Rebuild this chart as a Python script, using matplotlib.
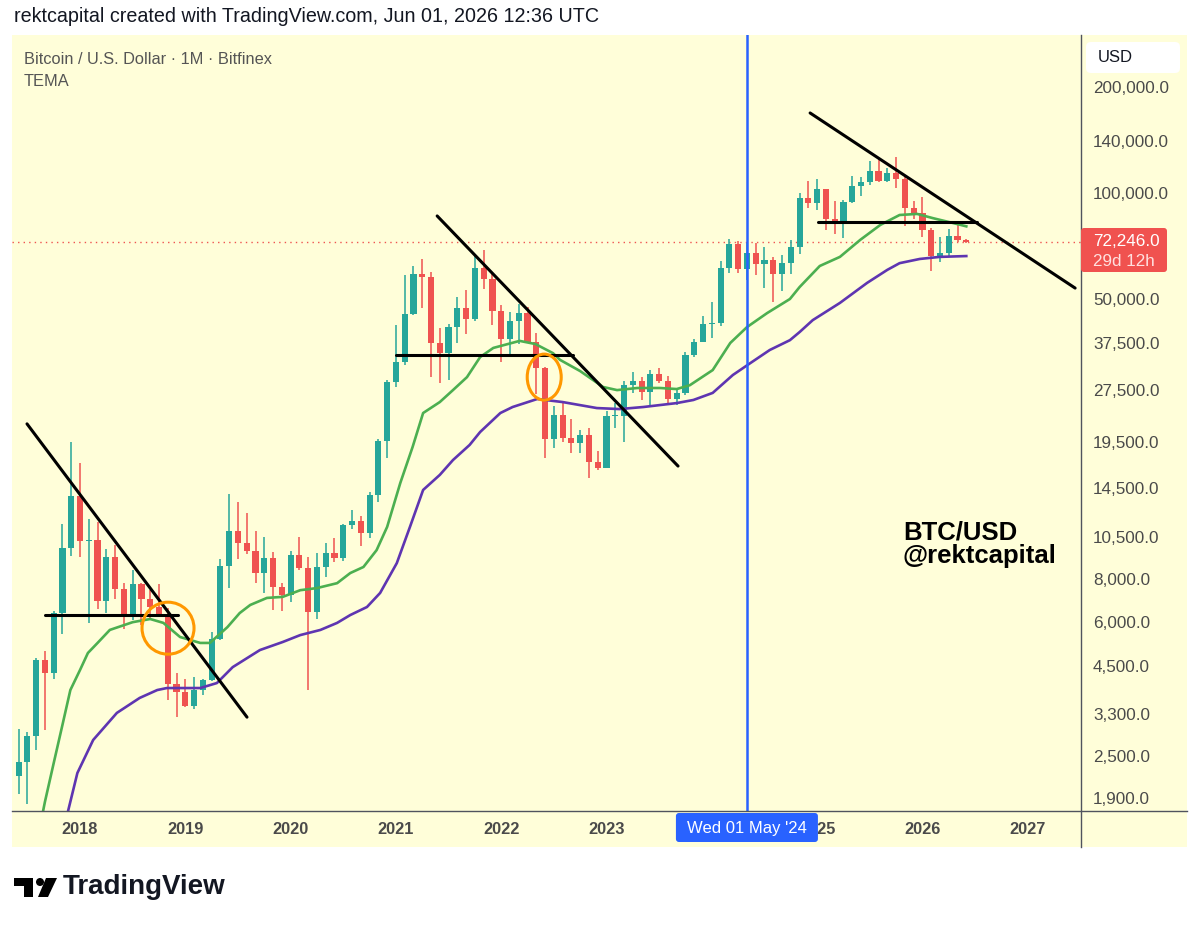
import matplotlib
matplotlib.use("Agg")
import matplotlib.pyplot as plt
import numpy as np
from matplotlib.patches import Rectangle, FancyBboxPatch, Ellipse, Polygon, Circle
from matplotlib.lines import Line2D
from matplotlib.transforms import IdentityTransform
from matplotlib.ticker import NullLocator

plt.rcParams["font.family"] = ["Liberation Sans", "DejaVu Sans"]

# monthly candles, Jun 2017 .. Jun 2026 (month index 0 = Jan 2018)
first_month = -7
opens = [2190, 2410, 2860, 4700, 4310, 6400, 9800,
         13700, 10200, 10320, 6900, 9200, 7450, 6350, 7700, 7000, 6620, 6320, 4000,
         3800, 3470, 3850, 4120, 5400, 8700, 10900, 10100, 9600, 8300, 9180, 7550,
         7200, 9350, 8550, 6420, 8630, 9450, 9140, 11350, 11650, 10780, 13800, 19700,
         28950, 33100, 45200, 58800, 57700, 37300, 35000, 41500, 47100, 43800, 61300, 57000,
         46200, 38500, 43200, 45500, 37700, 31800, 19900, 23300, 20050, 19430, 20500, 17170,
         16550, 23130, 23150, 28470, 29250, 27200, 30480, 29230, 25940, 26970, 34650, 37720,
         42280, 42580, 61130, 71300, 60650, 67500, 62700, 64600, 58950, 63300, 70200, 96400,
         93400, 102400, 84300, 82500, 94200, 104600, 107100, 115700, 108200, 114000, 109500, 90400,
         87500, 78400, 66100, 67300, 75500, 73300]
highs = [2980, 2920, 4740, 4980, 6470, 11400, 19600,
         17100, 11780, 11600, 9700, 9950, 7780, 8450, 7760, 7400, 7700, 6600, 4300,
         4150, 4200, 4150, 5650, 9100, 13900, 13200, 12300, 10950, 10500, 9500, 7750,
         9600, 10500, 9200, 9450, 10100, 10400, 11450, 12500, 12080, 14100, 19900, 29300,
         41950, 58350, 61800, 64900, 59500, 41300, 42400, 50500, 52900, 67000, 69000, 59100,
         47900, 45800, 48200, 47400, 40000, 31900, 24700, 25200, 22800, 21100, 21500, 18400,
         23950, 25250, 29200, 31000, 29850, 31400, 31800, 30200, 27500, 35200, 38450, 44700,
         48950, 63900, 73800, 72800, 71950, 71950, 70000, 65600, 66500, 73600, 99800, 108300,
         109300, 102500, 95000, 95700, 111900, 110600, 123200, 124500, 117900, 126200, 111000, 94600,
         97300, 79500, 75000, 79000, 82600, 73800]
lows = [1950, 1830, 2600, 2970, 4140, 5550, 9300,
        9200, 5980, 6550, 6400, 7000, 5760, 6100, 5900, 6100, 6200, 3620, 3230,
        3450, 3400, 3720, 4080, 5350, 7500, 9100, 9400, 7750, 7300, 6500, 6450,
        6880, 8450, 3850, 6150, 8100, 8900, 8950, 11100, 9900, 10400, 13200, 17600,
        28100, 32300, 45000, 47000, 30000, 28800, 29300, 37300, 39600, 43300, 53300, 42000,
        33000, 34300, 37200, 37600, 26700, 17600, 18800, 19600, 18150, 18200, 15500, 16300,
        16500, 21400, 19550, 26900, 25800, 24800, 28850, 25200, 24900, 26550, 34100, 37600,
        38550, 41900, 59300, 59200, 56500, 58400, 53500, 49000, 52500, 58900, 66800, 90500,
        89200, 78200, 76600, 74400, 93400, 98200, 105100, 107300, 107300, 103500, 80600, 84500,
        74800, 60000, 63500, 65600, 72500, 72000]
closes = [2410, 2860, 4700, 4310, 6400, 9800, 13700,
          10200, 10320, 6900, 9200, 7450, 6350, 7700, 7000, 6620, 6320, 4000, 3800,
          3470, 3850, 4120, 5400, 8700, 10900, 10100, 9600, 8300, 9180, 7550, 7200,
          9350, 8550, 6420, 8630, 9450, 9140, 11350, 11650, 10780, 13800, 19700, 28950,
          33100, 45200, 58800, 57700, 37300, 35000, 41500, 47100, 43800, 61300, 57000, 46200,
          38500, 43200, 45500, 37700, 31800, 19900, 23300, 20050, 19430, 20500, 17170, 16550,
          23130, 23150, 28470, 29250, 27200, 30480, 29230, 25940, 26970, 34650, 37720, 42280,
          42580, 61130, 71300, 60650, 67500, 62700, 64600, 58950, 63300, 70200, 96400, 93400,
          102400, 84300, 82500, 94200, 104600, 107100, 115700, 108200, 114000, 109500, 90400, 87500,
          78400, 66100, 67300, 75500, 73300, 72246]

# TEMA lines (month index, price)
green_x = [-4.3, -4.0, -3.0, -2.0, -1.1, 0.0, 0.9, 2.0, 3.4, 6.0, 8.0, 9.5, 11.4, 13.7, 14.8,
           16.8, 18.2, 19.4, 21.3, 23.1, 25.1, 27.0, 29.3, 30.8, 32.3, 33.8, 35.0, 36.5, 37.9,
           39.1, 41.0, 42.5, 44.1, 45.6, 47.1, 50.1, 51.9, 53.9, 54.7, 57.0, 59.6, 61.2, 63.5,
           66.1, 68.0, 69.5, 72.1, 74.1, 76.0, 78.3, 80.9, 82.0, 84.3, 86.6, 88.9, 91.2, 93.4,
           95.4, 97.2, 99.5, 101.0]
green_y = [1700, 1853, 2388, 3069, 3855, 4395, 4914, 5248, 5715, 6012, 6138, 5984, 5456, 5248, 5248,
           5821, 6383, 6730, 7047, 7096, 7413, 7516, 7762, 8294, 8630, 9638, 11220, 14962, 18930,
           23650, 25410, 27480, 29920, 34120, 36220, 37930, 37150, 35000, 33500, 31120, 28050, 27480, 27860,
           27860, 27670, 28380, 31330, 37410, 41500, 45500, 49900, 53950, 61940, 65750, 73450, 81050, 86500,
           87100, 84720, 82050, 80300]
purple_x = [-1.6, -0.3, 1.5, 4.2, 6.8, 8.8, 9.9, 13.7, 15.6, 17.4, 20.5, 23.1, 25.1, 27.4, 29.3,
            30.8, 32.7, 34.2, 36.1, 37.6, 39.1, 41.0, 42.5, 44.4, 45.6, 47.9, 49.3, 52.1, 55.0,
            58.9, 61.5, 64.2, 68.0, 69.9, 72.1, 74.4, 76.4, 78.6, 80.9, 82.0, 83.5, 86.6, 89.7,
            92.0, 93.4, 95.7, 98.0, 101.0]
purple_y = [1650, 2239, 2780, 3319, 3661, 3855, 3906, 3906, 4036, 4479, 5009, 5280, 5525, 5715, 5984,
            6300, 6640, 7280, 8850, 11220, 14290, 15770, 17380, 19190, 20890, 23650, 24600, 25920, 25410,
            24430, 24270, 24600, 25240, 25760, 26980, 30340, 32810, 35730, 38110, 40180, 43450, 48640, 55460,
            60390, 63100, 64860, 65750, 66100]

# drawn trendlines (month index, price)
trend_lines = [
    ([-6.04, 19.03], [22030, 3228]),
    ([-4.0, 11.2], [6300, 6300]),
    ([40.7, 68.15], [85960, 16710]),
    ([36.0, 56.2], [34590, 34590]),
    ([83.2, 113.4], [168700, 53600]),
    ([84.1, 102.2], [82400, 82400]),
]

price_ticks = [200000, 140000, 100000, 50000, 37500, 27500, 19500, 14500,
               10500, 8000, 6000, 4500, 3300, 2500, 1900]
# 2024 sits under the date label of the blue line
years = [2018, 2019, 2020, 2021, 2022, 2023, 2025, 2026, 2027]
last_price = 72246
marker_month = 76  # May 2024

BG = "#fffed9"
UP = "#26a69a"
DOWN = "#ef5350"
W, H = 1199, 927


def px(x, y):
    # pixel from top-left -> display coords
    return x, H - y


fig = plt.figure(figsize=(W / 100, H / 100), dpi=100)
fig.patch.set_facecolor("white")
fig.patches.append(Rectangle(px(12, 847), 1175, 812, transform=IdentityTransform(),
                             fc=BG, ec="none", zorder=-5))

ax = fig.add_axes([12 / W, 1 - 811 / H, (1081 - 12) / W, (811 - 35) / H])
ax.set_facecolor(BG)
ax.set_yscale("log")
ax.set_xlim(-7.75, 114.07)
ax.set_ylim(1746, 281100)
for s in ax.spines.values():
    s.set_visible(False)

# candles
idx = np.arange(len(opens)) + first_month
o = np.array(opens, float)
c = np.array(closes, float)
hi = np.array(highs, float)
lo = np.array(lows, float)
col = np.where(c >= o, UP, DOWN)
ax.vlines(idx, lo, hi, colors=col, lw=1.1, zorder=3)
bot = np.minimum(o, c)
top = np.maximum(o, c)
top = np.maximum(top, bot * 1.008)
ax.bar(idx, top - bot, bottom=bot, width=0.7, color=col, lw=0, zorder=4)

# TEMA lines
ax.plot(green_x, green_y, color="#4caf50", lw=1.9, zorder=5)
ax.plot(purple_x, purple_y, color="#5e35b1", lw=1.9, zorder=5)

for xs, ys in trend_lines:
    ax.plot(xs, ys, color="black", lw=2.2, solid_capstyle="round", zorder=6)

ax.axhline(last_price, color=DOWN, lw=1, ls=(0, (1, 3)), zorder=2)
ax.axvline(marker_month, color="#2962ff", lw=1.8, zorder=7)

# axis labels
ax.yaxis.tick_right()
ax.set_yticks(price_ticks)
ax.set_yticklabels([f"{v:,.1f}" for v in price_ticks])
ax.yaxis.set_minor_locator(NullLocator())
ax.tick_params(axis="y", length=0, pad=8.6, labelsize=12.3, labelcolor="#4a4a4a")
ax.set_xticks([(y - 2018) * 12 for y in years])
ax.set_xticklabels([str(y) for y in years], fontweight="bold")
ax.tick_params(axis="x", length=0, pad=8, labelsize=11.8, labelcolor="#4a4a4a")

fig.canvas.draw()

# orange circles around the breakdowns
for (m, p), w, h in [((10.03, 5780), 52, 52), ((52.9, 29920), 34, 46)]:
    dx, dy = ax.transData.transform((m, p))
    fig.patches.append(Ellipse((dx, dy), w, h, transform=IdentityTransform(),
                               fill=False, ec="#ff9800", lw=2.2, zorder=8))

# frame lines
fig.add_artist(Line2D([12, 1187], [H - 811, H - 811], transform=IdentityTransform(),
                      color="#50535e", lw=1))
fig.add_artist(Line2D([1081, 1081], [H - 35, H - 847], transform=IdentityTransform(),
                      color="#50535e", lw=1))

# USD box
fig.patches.append(FancyBboxPatch(px(1086, 73), 94, 31, boxstyle="round,pad=0,rounding_size=5",
                                  transform=IdentityTransform(), fc="white", ec="none"))
fig.text(1098, H - 58, "USD", transform=IdentityTransform(), fontsize=12,
         color="#131722", va="center")

# current price label
fig.patches.append(FancyBboxPatch(px(1081, 272), 86, 44, boxstyle="round,pad=0,rounding_size=3",
                                  transform=IdentityTransform(), fc="#f0524f", ec="none", zorder=9))
fig.text(1093, H - 241, f"{last_price:,.1f}", transform=IdentityTransform(), fontsize=12.3,
         color="white", va="center", zorder=10)
fig.text(1093, H - 261, "29d 12h", transform=IdentityTransform(), fontsize=12.3,
         color="#ffe0df", va="center", zorder=10)

# date label of the blue line
bx, _ = ax.transData.transform((marker_month, last_price))
fig.patches.append(FancyBboxPatch((bx - 71, H - 842), 142, 29, boxstyle="round,pad=0,rounding_size=3",
                                  transform=IdentityTransform(), fc="#2962ff", ec="none", zorder=9))
fig.text(bx, H - 828, "Wed 01 May '24", transform=IdentityTransform(), fontsize=12,
         color="white", ha="center", va="center", zorder=10)

# header and legend
fig.text(14, H - 17, "rektcapital created with TradingView.com, Jun 01, 2026 12:36 UTC",
         transform=IdentityTransform(), fontsize=14.2, color="#131722", va="center")
fig.text(24, H - 59, "Bitcoin / U.S. Dollar · 1M · Bitfinex", transform=IdentityTransform(),
         fontsize=11.8, color="#555555", va="center")
fig.text(24, H - 82, "TEMA", transform=IdentityTransform(), fontsize=11.8,
         color="#555555", va="center")

fig.text(903, H - 544, "BTC/USD\n@rektcapital", transform=IdentityTransform(), fontsize=18.5,
         fontweight="bold", color="black", va="center", linespacing=1.0)

# TradingView logo
fig.patches.append(Rectangle(px(14, 886), 19, 8, transform=IdentityTransform(), fc="black"))
fig.patches.append(Rectangle(px(24, 897), 9, 19, transform=IdentityTransform(), fc="black"))
fig.patches.append(Circle(px(40, 882), 4, transform=IdentityTransform(), fc="black"))
fig.patches.append(Polygon([px(46, 878), px(57, 878), px(48, 897), px(38, 897)],
                           transform=IdentityTransform(), fc="black"))
fig.text(63, H - 887, "TradingView", transform=IdentityTransform(), fontsize=20,
         fontweight="bold", color="#131722", va="center")

fig.savefig("out.png", dpi=100, facecolor="white")
